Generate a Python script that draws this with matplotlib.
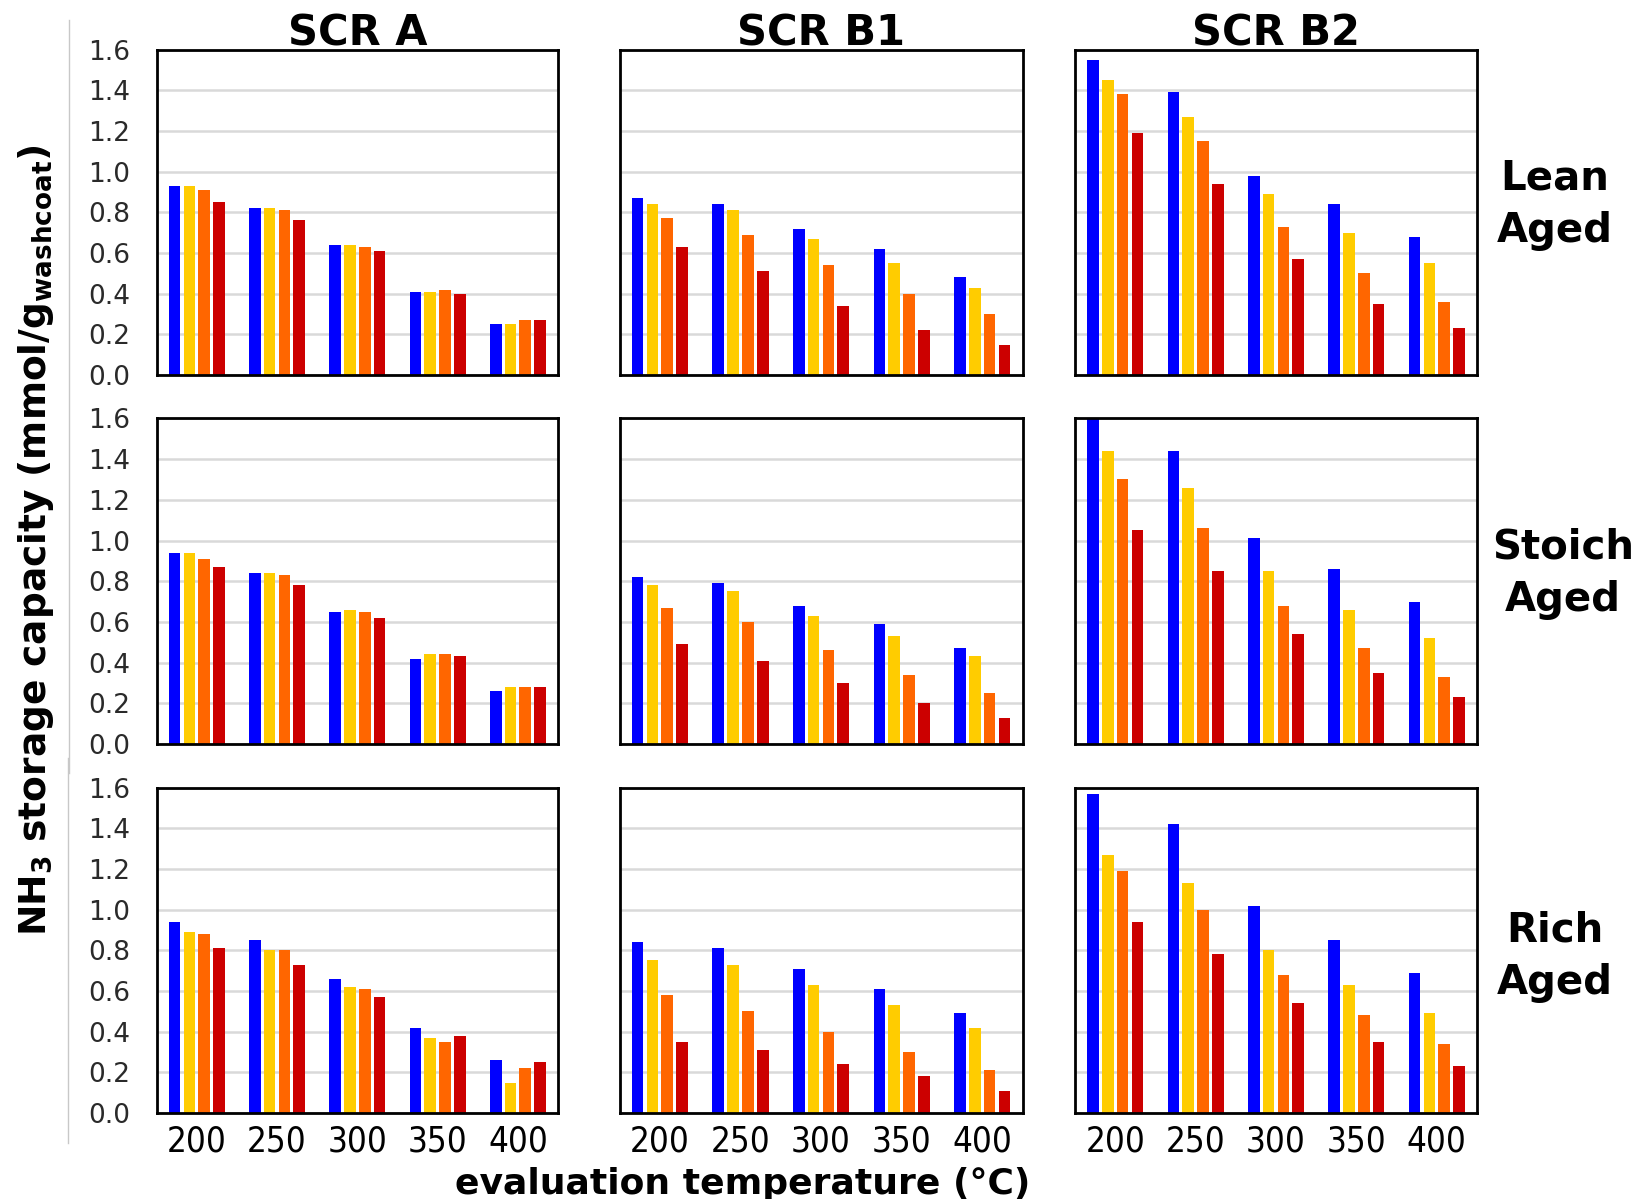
import numpy as np
import matplotlib.pyplot as plt
from matplotlib.lines import Line2D

# ---- data (NH3 storage capacity, mmol/g washcoat) ----
temps = ['200', '250', '300', '350', '400']
col_titles = ['SCR A', 'SCR B1', 'SCR B2']
row_titles = ['Lean\nAged', 'Stoich\nAged', 'Rich\nAged']
bar_colors = ['#0000FF', '#FFCC00', '#FF6600', '#CC0000']

# each panel: 4 series (blue, yellow, orange, red) x 5 temperatures
lean_A = [[0.93, 0.82, 0.64, 0.41, 0.25],
          [0.93, 0.82, 0.64, 0.41, 0.25],
          [0.91, 0.81, 0.63, 0.42, 0.27],
          [0.85, 0.76, 0.61, 0.40, 0.27]]
lean_B1 = [[0.87, 0.84, 0.72, 0.62, 0.48],
           [0.84, 0.81, 0.67, 0.55, 0.43],
           [0.77, 0.69, 0.54, 0.40, 0.30],
           [0.63, 0.51, 0.34, 0.22, 0.15]]
lean_B2 = [[1.55, 1.39, 0.98, 0.84, 0.68],
           [1.45, 1.27, 0.89, 0.70, 0.55],
           [1.38, 1.15, 0.73, 0.50, 0.36],
           [1.19, 0.94, 0.57, 0.35, 0.23]]
stoich_A = [[0.94, 0.84, 0.65, 0.42, 0.26],
            [0.94, 0.84, 0.66, 0.44, 0.28],
            [0.91, 0.83, 0.65, 0.44, 0.28],
            [0.87, 0.78, 0.62, 0.43, 0.28]]
stoich_B1 = [[0.82, 0.79, 0.68, 0.59, 0.47],
             [0.78, 0.75, 0.63, 0.53, 0.43],
             [0.67, 0.60, 0.46, 0.34, 0.25],
             [0.49, 0.41, 0.30, 0.20, 0.13]]
stoich_B2 = [[1.61, 1.44, 1.01, 0.86, 0.70],
             [1.44, 1.26, 0.85, 0.66, 0.52],
             [1.30, 1.06, 0.68, 0.47, 0.33],
             [1.05, 0.85, 0.54, 0.35, 0.23]]
rich_A = [[0.94, 0.85, 0.66, 0.42, 0.26],
          [0.89, 0.80, 0.62, 0.37, 0.15],
          [0.88, 0.80, 0.61, 0.35, 0.22],
          [0.81, 0.73, 0.57, 0.38, 0.25]]
rich_B1 = [[0.84, 0.81, 0.71, 0.61, 0.49],
           [0.75, 0.73, 0.63, 0.53, 0.42],
           [0.58, 0.50, 0.40, 0.30, 0.21],
           [0.35, 0.31, 0.24, 0.18, 0.11]]
rich_B2 = [[1.57, 1.42, 1.02, 0.85, 0.69],
           [1.27, 1.13, 0.80, 0.63, 0.49],
           [1.19, 1.00, 0.68, 0.48, 0.34],
           [0.94, 0.78, 0.54, 0.35, 0.23]]

panels = [[lean_A, lean_B1, lean_B2],
          [stoich_A, stoich_B1, stoich_B2],
          [rich_A, rich_B1, rich_B2]]

# ---- layout ----
W, H = 1636, 1199
fig = plt.figure(figsize=(W / 100, H / 100), dpi=100)
lefts = [0.0957, 0.3787, 0.6571]
widths = [0.2454, 0.2463, 0.2457]
bottoms = [0.6872, 0.3795, 0.0717]
height = 0.2715

x = np.arange(len(temps))
pitch = 0.184
bw = 0.145
yt = np.arange(0, 1.61, 0.2)

for r in range(3):
    for c in range(3):
        ax = fig.add_axes([lefts[c], bottoms[r], widths[c], height])
        data = panels[r][c]
        for i, series in enumerate(data):
            ax.bar(x + (i - 1.5) * pitch, series, width=bw, color=bar_colors[i],
                   edgecolor='none', zorder=2)
        ax.set_xlim(-0.5, 4.5)
        ax.set_ylim(0, 1.6)
        ax.set_yticks(yt)
        ax.yaxis.grid(True, color='#d9d9d9', lw=1.8, zorder=0)
        ax.set_axisbelow(True)
        for s in ax.spines.values():
            s.set_linewidth(2)
            s.set_color('black')
        ax.tick_params(length=0)
        if c == 0:
            ax.set_yticklabels([f'{v:.1f}' for v in yt], fontsize=19, color='#2a2a2a')
            ax.tick_params(axis='y', pad=19)
        else:
            ax.set_yticklabels([])
        ax.set_xticks(x)
        if r == 2:
            ax.set_xticklabels(temps, fontsize=25, fontstretch='condensed')
            ax.tick_params(axis='x', pad=8)
        else:
            ax.set_xticklabels([])

# column titles
for c in range(3):
    fig.text(lefts[c] + widths[c] / 2, 1 - 46 / H, col_titles[c], ha='center',
             va='baseline', fontsize=30, fontweight='bold')

# row labels
row_y = [1 - 205 / H, 1 - 574 / H, 1 - 957 / H]
row_x = [1555 / W, 1563 / W, 1555 / W]
for r in range(3):
    fig.text(row_x[r], row_y[r], row_titles[r], ha='center', va='center',
             fontsize=29, fontweight='bold', linespacing=1.4)

fig.text(743 / W, 1 - 1184 / H, 'evaluation temperature (°C)', ha='center',
         va='center', fontsize=26, fontweight='bold')
fig.text(36 / W, 1 - 540 / H, r'NH$_\mathbf{3}$ storage capacity (mmol/g$_\mathbf{washcoat}$)',
         rotation=90, ha='center', va='center', fontsize=27, fontweight='bold')

# thin grey separator lines on the left
fig.add_artist(Line2D([69 / W, 69 / W], [1 - 20 / H, 1 - 773 / H], color='#c8c8c8', lw=1))
fig.add_artist(Line2D([68 / W, 68 / W], [1 - 758 / H, 1 - 1143 / H], color='#c8c8c8', lw=1))

fig.savefig('out.png', dpi=100, facecolor='white')
